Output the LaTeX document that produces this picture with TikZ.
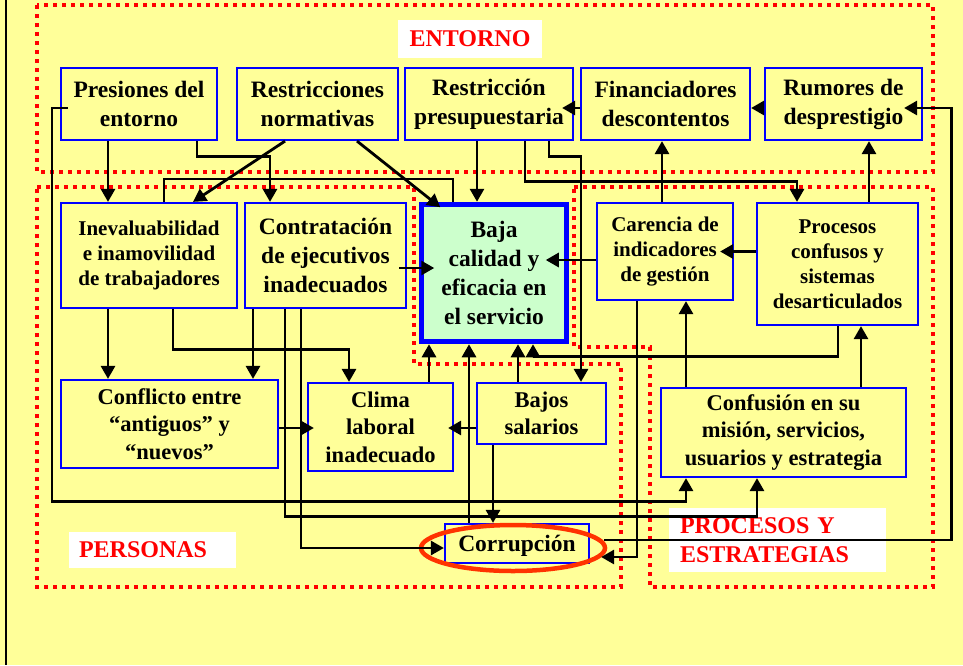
\documentclass[tikz,border=0pt]{standalone}
\usepackage{fontspec}
\setmainfont{Liberation Serif}
\usetikzlibrary{arrows.meta}
\definecolor{bgyellow}{HTML}{FFFF99}
\definecolor{boxblue}{HTML}{0000FF}
\definecolor{bajagreen}{HTML}{CCFFCC}
\definecolor{ringred}{HTML}{FF3300}
\begin{document}
\begin{tikzpicture}[x=1pt,y=-1pt,
  box/.style={draw=boxblue, line width=2.2pt, fill=bgyellow, align=center, inner sep=0pt},
  fbig/.style={font=\fontsize{23.5}{29}\selectfont\bfseries},
  fmid/.style={font=\fontsize{22.5}{27.5}\selectfont\bfseries},
  fsmall/.style={font=\fontsize{21}{25}\selectfont\bfseries},
  region/.style={draw=red, line width=4.2pt, dash pattern=on 4.2pt off 4.8pt},
  lab/.style={fill=white, text=red, font=\fontsize{24}{29}\selectfont\bfseries, inner ysep=0pt},
  conn/.style={line width=2.8pt},
  arr/.style={conn, -{Triangle[length=13pt,width=14pt]}}]
\useasboundingbox (0,0) rectangle (963,665);
\fill[bgyellow] (0,0) rectangle (963,665);
\draw[line width=2.5pt] (6,0) -- (6,665);

% regions
\draw[region] (37,5) rectangle (933,172);
\draw[region] (37,187) -- (414,187) -- (414,364) -- (621,364) -- (621,587) -- (37,587) -- cycle;
\draw[region] (574,187) -- (933,187) -- (933,587) -- (650,587) -- (650,347) -- (574,347) -- cycle;

% region labels
\node[lab, minimum width=144pt, minimum height=38pt] (lentorno) at (470,39) {ENTORNO};
\node[lab, text width=147pt, inner xsep=10pt, align=left, minimum height=36pt] (lpersonas) at (152.5,550) {PERSONAS};
\node[lab, text width=195pt, inner xsep=11pt, align=left, minimum height=64pt] (lprocesos) at (777.5,540) {PROCESOS Y\\ESTRATEGIAS};

% nodes
\node[box, fbig, minimum width=156pt, minimum height=72pt] (pres) at (139,104) {Presiones del\\entorno};
\node[box, fbig, minimum width=161pt, minimum height=72pt] (rnorm) at (317.5,104) {Restricciones\\normativas};
\node[box, fbig, minimum width=168pt, minimum height=72pt] (rpres) at (489,104) {Restricción\\presupuestaria};
\node[box, fbig, minimum width=169pt, minimum height=72pt] (fin) at (665.5,104) {Financiadores\\descontentos};
\node[box, fbig, minimum width=157pt, minimum height=72pt] (rum) at (843.5,104) {Rumores de\\desprestigio};

\node[box, fsmall, minimum width=176pt, minimum height=105pt] (ineval) at (149,255.5) {Inevaluabilidad\\e inamovilidad\\de trabajadores};
\node[box, fbig, minimum width=161pt, minimum height=105pt] (contr) at (325.5,255.5) {Contratación\\de ejecutivos\\inadecuados};
\node[box, fbig, line width=5.5pt, fill=bajagreen, minimum width=145pt, minimum height=137pt] (baja) at (494,273) {Baja\\calidad y\\eficacia en\\el servicio};
\node[box, fsmall, minimum width=136pt, minimum height=97pt] (car) at (665,251.5) {Carencia de\\indicadores\\de gestión};
\node[box, fsmall, minimum width=161pt, minimum height=122pt] (proc) at (837.5,264) {Procesos\\confusos y\\sistemas\\desarticulados};

\node[box, fmid, minimum width=217pt, minimum height=88pt] (conf) at (169.5,424) {Conflicto entre\\“antiguos” y\\“nuevos”};
\node[box, fmid, minimum width=145pt, minimum height=88pt] (clima) at (380.5,427) {Clima\\laboral\\inadecuado};
\node[box, fmid, minimum width=129pt, minimum height=61pt] (bajos) at (541.5,413.5) {Bajos\\salarios};
\node[box, fmid, minimum width=245pt, minimum height=89pt] (confu) at (783.5,432.5) {Confusión en su\\misión, servicios,\\usuarios y estrategia};
\node[box, fbig, text depth=0pt, minimum width=144pt, minimum height=39pt] (corr) at (517,543.5) {Corrupción};

% highlight ring
\draw[ringred, line width=4.5pt] (513,548) ellipse [x radius=92, y radius=23];

% connectors
\draw[arr] ([xshift=-31pt]pres.south) -- ([xshift=-41pt]ineval.north);
\draw[arr] ([xshift=58pt]pres.south) -- ++(0,15) -| ([xshift=-55.5pt]contr.north);
\draw[arr] ([xshift=-32.5pt]rnorm.south) -- ([xshift=44pt]ineval.north);
\draw[arr] ([xshift=39.5pt]rnorm.south) -- ([xshift=21.5pt,yshift=-5.5pt]baja.north west);
\draw[conn] ([xshift=15pt]ineval.north) -- ++(0,-23) -| ([xshift=-41pt]baja.north);
\draw[arr] ([xshift=-12pt]rpres.south) -- ([xshift=-17pt]baja.north);
\draw[arr] ([xshift=36pt]rpres.south) -- ++(0,40) -| ([xshift=-40.5pt]proc.north);
\draw[arr] ([xshift=60pt]rpres.south) -- ++(0,15) -| ([xshift=39.5pt]bajos.north);
\draw[arr] ([yshift=-4pt]rum.west) -- ([yshift=-4pt]fin.east);
\draw[arr] ([yshift=-4pt]fin.west) -- ([xshift=-12pt,yshift=-4pt]rpres.east);
\draw[arr] ([xshift=14pt,yshift=3.5pt]corr.east) -| ([xshift=28pt,yshift=-4pt]rum.east) -- ([xshift=-19pt,yshift=-4pt]rum.east);
\draw[arr] ([xshift=-3pt]car.north) -- ([xshift=-3.5pt]fin.south);
\draw[arr] ([xshift=31.5pt]proc.north) -- ([xshift=25.5pt]rum.south);
\draw[arr] ([yshift=12.5pt]proc.west) -- ([xshift=-14pt]car.east);
\draw[arr] ([yshift=-8.5pt]car.west) -- ([xshift=-23.5pt,yshift=13pt]baja.east);
\draw[arr] ([xshift=-8pt,yshift=-12.5pt]contr.east) -- ([xshift=15.5pt,yshift=5pt]baja.west);
\draw[arr] ([xshift=0.5pt]proc.south) -- ++(0,30) -| ([xshift=39pt]baja.south);
\draw[arr] ([xshift=-97.5pt]confu.north) -- ([xshift=21pt]car.south);
\draw[arr] ([xshift=77.5pt]confu.north) -- ([xshift=23.5pt]proc.south);
\draw[arr] ([xshift=48.5pt]clima.north) -- ([xshift=-65pt]baja.south);
\draw[arr] ([xshift=-48pt]corr.north) -- ([xshift=-25pt]baja.south);
\draw[arr] ([xshift=-23.5pt]bajos.north) -- ([xshift=24pt]baja.south);
\draw[arr] ([yshift=-14.5pt]bajos.west) -- ([xshift=-6pt,yshift=-1pt]clima.east);
\draw[arr] ([xshift=-48.5pt]bajos.south) -- ([xshift=-24pt]corr.north);
\draw[arr] ([yshift=-4pt]conf.east) -- ([xshift=7pt,yshift=-1pt]clima.west);
\draw[arr] ([xshift=-41pt]ineval.south) -- ([xshift=-61.5pt]conf.north);
\draw[arr] ([xshift=24pt]ineval.south) -- ++(0,40) -| ([xshift=-31.5pt]clima.north);
\draw[arr] ([xshift=-72.5pt]contr.south) -- ([xshift=83.5pt]conf.north);
\draw[arr] ([xshift=-40.5pt]contr.south) -- ++(0,207) -| ([xshift=-26.5pt]confu.south);
\draw[arr] ([xshift=-24.5pt]contr.south) |- ([yshift=-4.5pt]corr.west);
\draw[arr] ([xshift=8pt,yshift=-4pt]pres.west) -- ++(-16,0) |- ([xshift=-97.5pt,yshift=-23pt]confu.south) -- ([xshift=-97.5pt]confu.south);
\draw[arr] ([xshift=-28pt]car.south) |- ([xshift=11pt,yshift=-13.5pt]corr.east);
\end{tikzpicture}
\end{document}
